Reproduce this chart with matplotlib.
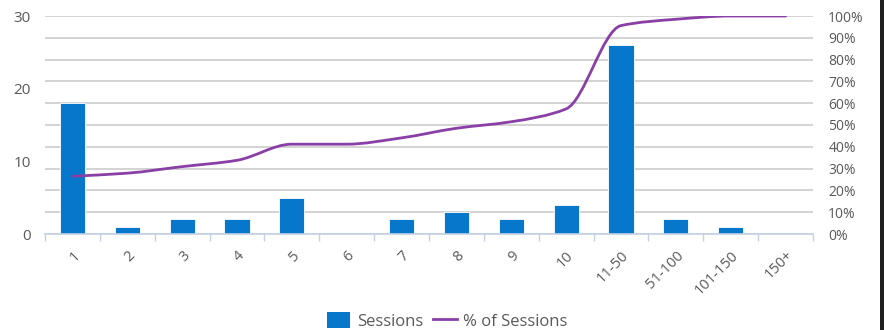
import matplotlib
matplotlib.use("Agg")
import matplotlib.pyplot as plt
import numpy as np
from matplotlib.path import Path
from matplotlib.patches import PathPatch, Rectangle
from matplotlib.lines import Line2D
from matplotlib.ticker import FuncFormatter

categories = ["1", "2", "3", "4", "5", "6", "7", "8", "9", "10",
              "11-50", "51-100", "101-150", "150+"]
sessions = [18, 1, 2, 2, 5, 0, 2, 3, 2, 4, 26, 2, 1, 0]
pct_sessions = [26.5, 27.9, 30.9, 33.8, 41.2, 41.2, 44.1, 48.5, 51.5, 57.4,
                95.6, 98.5, 100.0, 100.0]

BAR_COLOR = "#0777cc"
LINE_COLOR = "#8a3fa6"
GRID_COLOR = "#d0d0d0"
TEXT_COLOR = "#595959"

plt.rcParams['font.family'] = ['Open Sans', 'DejaVu Sans']


def smooth_path(x, y):
    """Monotone cubic (Fritsch-Carlson) curve through the points, as bezier segments."""
    x = np.asarray(x, float)
    y = np.asarray(y, float)
    h = np.diff(x)
    d = np.diff(y) / h
    m = np.zeros_like(y)
    m[0], m[-1] = d[0], d[-1]
    for k in range(1, len(y) - 1):
        if d[k - 1] * d[k] <= 0:
            m[k] = 0.0
        else:
            m[k] = 2.0 / (1.0 / d[k - 1] + 1.0 / d[k])
    verts = [(x[0], y[0])]
    codes = [Path.MOVETO]
    for k in range(len(y) - 1):
        verts += [(x[k] + h[k] / 3, y[k] + m[k] * h[k] / 3),
                  (x[k + 1] - h[k] / 3, y[k + 1] - m[k + 1] * h[k] / 3),
                  (x[k + 1], y[k + 1])]
        codes += [Path.CURVE4] * 3
    return Path(verts, codes)


fig = plt.figure(figsize=(8.84, 3.30), dpi=100)
ax = fig.add_axes([45 / 884, 1 - 234 / 330, 768 / 884, 218 / 330])
ax2 = ax.twinx()

x = np.arange(len(categories))

# right axis carries the gridlines
ax2.set_ylim(0, 100)
ax2.set_yticks(np.arange(0, 101, 10))
ax2.yaxis.set_major_formatter(FuncFormatter(lambda v, p: f"{int(v)}%"))
ax2.grid(True, color=GRID_COLOR, linewidth=1.3)
ax2.set_axisbelow(True)
ax2.tick_params(axis='y', length=0, pad=11, labelsize=10, labelcolor=TEXT_COLOR)

ax.set_ylim(0, 30)
ax.set_yticks([0, 10, 20, 30])
ax.tick_params(axis='y', length=0, pad=10, labelsize=11, labelcolor=TEXT_COLOR)

ax.set_xlim(-0.5, len(categories) - 0.5)
ax.set_xticks(x)
ax.set_xticklabels(categories, rotation=45, ha='right', va='top',
                   rotation_mode='anchor', fontsize=10.5, color=TEXT_COLOR)
ax.set_xticks(np.arange(-0.5, len(categories), 1), minor=True)
ax.tick_params(axis='x', which='major', length=0, pad=10)
ax.tick_params(axis='x', which='minor', length=5, width=1, color="#c3d1e4",
               direction='out')

for axis in (ax, ax2):
    for side in ('top', 'left', 'right'):
        axis.spines[side].set_visible(False)
ax2.spines['bottom'].set_visible(False)
ax.spines['bottom'].set_color("#c3d1e4")
ax.spines['bottom'].set_linewidth(1.2)

# bars above the gridlines: put the bar axes in front
ax.set_zorder(ax2.get_zorder() + 1)
ax.patch.set_visible(False)
ax.bar(x, sessions, width=0.46, color=BAR_COLOR, edgecolor="white",
       linewidth=0.6, zorder=2)

# percent line drawn on the bar axes in percent units
curve = smooth_path(x, np.asarray(pct_sessions) * 30 / 100)
ax.add_patch(PathPatch(curve, facecolor='none', edgecolor=LINE_COLOR,
                       linewidth=2.0, zorder=3, capstyle='round'))

handles = [Rectangle((0, 0), 1, 1, facecolor=BAR_COLOR),
           Line2D([0], [0], color=LINE_COLOR, linewidth=2.0)]
fig.legend(handles, ["Sessions", "% of Sessions"], loc='lower center',
           bbox_to_anchor=(0.506, -0.045), ncol=2, frameon=False,
           fontsize=12, handlelength=1.4, handleheight=1.1,
           handletextpad=0.4, columnspacing=0.6, labelcolor=TEXT_COLOR)

fig.patches.append(Rectangle((880 / 884, 0), 4 / 884, 1, transform=fig.transFigure,
                             facecolor="#202020", edgecolor='none'))

fig.savefig("out.png", dpi=100)
